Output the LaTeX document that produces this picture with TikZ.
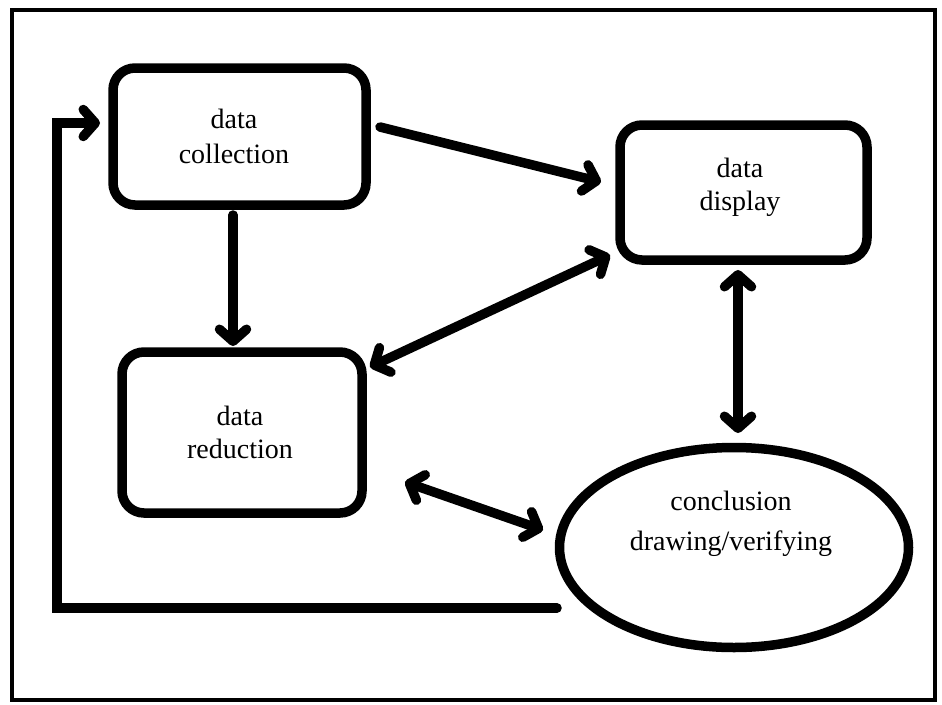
\documentclass[tikz,border=0pt]{standalone}
\usepackage{fontspec}
\setmainfont{Liberation Serif}
\usetikzlibrary{arrows.meta,shapes.geometric}
\tikzset{
  shapebox/.style={draw=black, line width=9.5pt, rounded corners=22pt, inner sep=0pt, outer sep=0pt},
  ellbox/.style={ellipse, draw=black, line width=9.5pt, inner sep=0pt, outer sep=0pt},
  lbl/.style={anchor=base, inner sep=0pt, font=\fontsize{28}{34}\selectfont},
  arr/.style={line width=9.5pt, line cap=round, line join=round, -{Straight Barb[length=12pt,width=27pt,round]}},
  darr/.style={line width=9.5pt, line cap=round, line join=round, {Straight Barb[length=12pt,width=27pt,round]}-{Straight Barb[length=12pt,width=27pt,round]}},
  fb/.style={line width=9.5pt, line cap=round, line join=miter, -{Straight Barb[length=12pt,width=27pt,round]}}
}
\begin{document}
\begin{tikzpicture}[x=1pt,y=-1pt]
\useasboundingbox (0,0) rectangle (942,704);
\fill[white] (0,0) rectangle (942,704);
\draw[line width=4.5pt] (12,10) rectangle (935,700);

\node[shapebox, minimum width=253pt, minimum height=137pt] (coll) at (239.5,136.5) {};
\node[shapebox, minimum width=247pt, minimum height=135pt] (disp) at (743.5,192.5) {};
\node[shapebox, minimum width=240pt, minimum height=161pt] (red) at (242,432.5) {};
\node[ellbox, minimum width=349pt, minimum height=200pt] (ell) at (734,547.5) {};

\node[lbl] (coll1) at (234,128) {data};
\node[lbl] (coll2) at (234,163) {collection};
\node[lbl] (disp1) at (740,177) {data};
\node[lbl] (disp2) at (740,210) {display};
\node[lbl] (red1) at (240,425) {data};
\node[lbl] (red2) at (240,458) {reduction};
\node[lbl] (ell1) at (731,510) {conclusion};
\node[lbl] (ell2) at (731,550) {drawing/verifying};

\draw[arr] ([shift={(14,-9.5)}]coll.east) -- ([shift={(-19,-10.5)}]disp.west);
\draw[arr] ([shift={(-6.5,10)}]coll.south) -- ([shift={(-9,-6)}]red.north);
\draw[darr] ([shift={(8,15)}]red.north east) -- ([shift={(-10,-5)}]disp.south west);
\draw[darr] ([shift={(-5.5,10)}]disp.south) -- ([shift={(4,-14.5)}]ell.north);
\draw[darr] ([shift={(43,-31)}]red.south east) -- ([shift={(-16.5,-17.5)}]ell.west);

\coordinate (fbx) at (57,608);
\draw[fb] ([shift={(-2.5,60.5)}]ell.west) -- (fbx) |- ([shift={(-13,-13.5)}]coll.west);
\end{tikzpicture}
\end{document}
